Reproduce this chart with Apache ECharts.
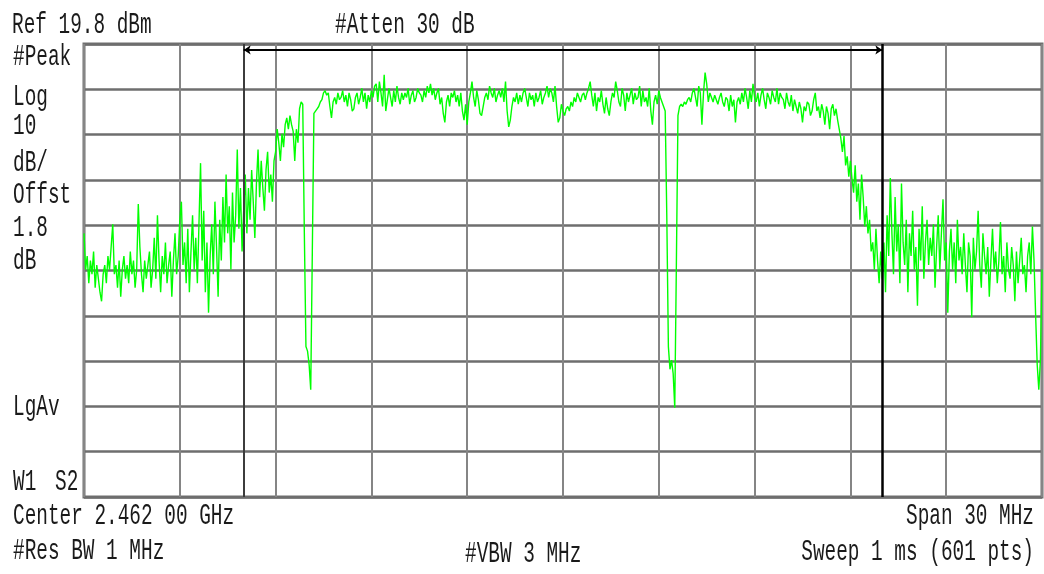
<!DOCTYPE html>
<html><head><meta charset="utf-8">
<script src="https://cdn.jsdelivr.net/npm/echarts@6/dist/echarts.min.js"></script>
<style>html,body{margin:0;padding:0;background:#fff}#c{width:1044px;height:574px}</style>
</head><body><div id="c"></div>
<script>
// ---- data ----
const freqStartMHz = 2447;
const freqStopMHz = 2477;
const freqDivMHz = 3;
const refLevelDbm = 19.8;
const dbPerDiv = 10;
const bottomDbm = -80.2;
const markerFreqsMHz = [2452, 2472];
const arrowLevelDbm = 18.5;
const traceDbm = [
-22,-30,-27,-33,-28,-31,-26,-34,-29,-32,
-35,-37,-31,-29,-33,-27,-30,-25,-20,-31,
-29,-34,-28,-36,-30,-27,-32,-29,-33,-26,
-31,-28,-34,-30,-15.5,-25,-31,-35,-28,-32,
-29,-26,-34,-30,-23,-32,-18,-28,-35,-27,
-31,-24,-33,-29,-26,-36,-28,-22,-31,-27,
-19,-15,-29,-24,-33,-21,-35,-26,-18,-30,
-23,-33,-20,-6.5,-28,-17,-35,-24,-39.5,-27,
-20,-31,-15,-25,-36,-19,-28,-14,-24,-9,
-22,-16,-30,-13,-24,-18,-3.5,-21,-12,-26,
-17,-9,-22,-12,-19,-8,-15,-23,-11,-3.5,
-14,-6,-12,-17,-8,-4,-13,-9,-15,-6,
-4,1,-2,-6,0,-3,2,3.5,1,4,
2,0.5,-6,1,-2,5.5,7,6.5,-22,-47,
-48,-51,-56.5,-26,4.5,5,5.5,6,7,7.5,
9,9.5,8.5,9,6,3.5,7,8,6.5,9,
7.5,8,9.5,7,8.5,6,9,7.5,5,5.5,
8,9,6.5,8,10,7,9,5.5,8.5,7,
9.5,8,10.5,11,7,11.5,9,6,13,5,
7.5,10,8,6,9.5,7,10.5,8,6.5,9,
7.5,9,8,10,6.5,8.5,9.5,7,8,10,
9,8.5,7,9.5,8,10.5,9,11,8.5,10,
7.5,9,10,6.5,8,4.5,2.5,7,8.5,6,
9,8,9.5,7,8.5,6,9,5,3,6.5,
2,7,9,11.5,8,6,9.5,7.5,4.5,4,
6,8,9,7.5,10.5,9,8,10,7,8.5,
9.5,8,10,7,11.5,5,1.5,3,6,8,
7,9,6.5,8.5,7,9,10,8,6,9,
7.5,8.5,6,9,7,8,9.5,6.5,8,9,
10.5,8,10,9,7,10.5,6,2.5,3.5,6.5,
5,4,5.5,6,5,7,6,8,7,9,
8,7,8.5,9,7.5,9,10,11.5,8.5,6,
9,5,8,7,9.5,6.5,4.5,8,5.5,4,
7,9,8,11.5,9.5,7,6,10,8.5,5,
9,7,8.5,10,6.5,9,7.5,8,10.5,6,
9.5,7,8,6,10,5,2,7,8.5,6.5,
9.5,8,7,6,5,-18,-47,-52,-50,-53,
-60.5,-29,4,6,6.5,6,7,6.5,7.5,8,
7,9,10,8,6,10.5,9,2,9,13.5,
11,7,9,8,7,8.5,7.5,6.5,8,9,
7,6,8,7.5,5,8.5,6,7.5,2.5,7,
8,6.5,9,7,10,8,5.5,9.5,7,11,
8,7,9,6,8.5,10,7.5,5.5,9,8,
6.5,9.5,8,7,10,6.5,9,8,7.5,5.5,
9,7,6,8.5,5,7.5,6,4.5,7,5.5,
2.5,6,5,7,6.5,4,5,7.5,9,5,
6,3.5,6.5,5,2,6,4.5,1,5.5,6.5,
4,5.5,3,3,-1,-4,-0.5,-7,-5,-9.5,
-6,-10,-13,-7,-15,-11,-19,-9,-14,-20.5,
-16,-22,-19,-26,-24,-30,-21,-28,-33,-26,
-32,-24,-35,-18,-27,-9.8,-22,-31,-14,-26,
-20,-33,-11,-24,-29,-19,-35,-22,-27,-17,
-30,-25,-38,-21,-28,-16,-32,-24,-19,-29,
-23,-27,-20,-34,-25,-18,-30,-22,-14.5,-28,
-24,-39.5,-26,-21,-30,-24,-33,-19,-28,-25,
-31,-22,-29,-35,-24,-27,-40.5,-23,-30,-26,
-17,-29,-34,-22,-27,-31,-25,-36,-28,-21,
-30,-26,-33,-28,-19.5,-31,-27,-35,-24,-30,
-32,-25,-29,-37,-26,-33,-28,-23,-31,-29,
-35,-27,-24,-31,-20.5,-28,-40,-51,-56.5,-50,
-30
];
const topLabels = ['Ref 19.8 dBm', '#Atten 30 dB'];
const leftLabels = ['#Peak', 'Log', '10', 'dB/', 'Offst', '1.8', 'dB', 'LgAv', 'W1', 'S2'];
const bottomLabels = ['Center 2.462 00 GHz', 'Span 30 MHz', '#Res BW 1 MHz', '#VBW 3 MHz', 'Sweep 1 ms (601 pts)'];

// ---- chart ----
const n = traceDbm.length;
const step = (freqStopMHz - freqStartMHz) / (n - 1);
const points = traceDbm.map((v, i) => [freqStartMHz + i * step, v]);

const FONT = '19.4px "Liberation Mono"';
const SY = 1.5;
function txt(t, x, y, align) {
  return { type: 'text', x: x, y: y, scaleY: SY, silent: true,
    style: { text: t, font: FONT, fill: '#1a1a1a', textAlign: align || 'left', textVerticalAlign: 'middle' } };
}
const leftY = [57.5, 97, 126, 163, 195, 228.5, 261, 407, 482, 482];
const leftX = [13, 13, 13, 13, 13, 13, 13, 13, 13, 55];
const graphics = [
  txt(topLabels[0], 12, 25.5),
  txt(topLabels[1], 335, 25.5)
];
leftLabels.forEach((t, i) => graphics.push(txt(t, leftX[i], leftY[i])));
graphics.push(txt(bottomLabels[0], 13, 516));
graphics.push(txt(bottomLabels[1], 1034, 516, 'right'));
graphics.push(txt(bottomLabels[2], 13, 551.5));
graphics.push(txt(bottomLabels[3], 465, 554));
graphics.push(txt(bottomLabels[4], 1034, 552, 'right'));

const chart = echarts.init(document.getElementById('c'), null, { renderer: 'canvas' });
chart.setOption({
  animation: false,
  backgroundColor: '#ffffff',
  grid: { left: 84, right: 2, top: 44, bottom: 77, show: true, borderColor: '#707070', borderWidth: 3 },
  xAxis: {
    type: 'value', min: freqStartMHz, max: freqStopMHz, interval: freqDivMHz,
    axisLine: { show: false }, axisTick: { show: false }, axisLabel: { show: false },
    splitLine: { show: true, lineStyle: { color: '#858585', width: 2 } }
  },
  yAxis: {
    type: 'value', min: bottomDbm, max: refLevelDbm, interval: dbPerDiv,
    axisLine: { show: false }, axisTick: { show: false }, axisLabel: { show: false },
    splitLine: { show: true, lineStyle: { color: '#6e6e6e', width: 2.5 } }
  },
  series: [
    {
      type: 'line', data: points, symbol: 'none', silent: true,
      lineStyle: { color: '#00ff00', width: 1.4 },
      markLine: {
        silent: true, symbol: 'none', label: { show: false },
        data: [
          { xAxis: markerFreqsMHz[0], lineStyle: { color: '#3c3c3c', width: 2, type: 'solid' } },
          { xAxis: markerFreqsMHz[1], lineStyle: { color: '#000000', width: 2.5, type: 'solid' } }
        ]
      }
    },
    {
      type: 'line', data: [], silent: true,
      markLine: {
        silent: true, symbol: ['arrow', 'arrow'], symbolSize: 7, label: { show: false },
        lineStyle: { color: '#000', width: 2, type: 'solid' },
        data: [[{ coord: [markerFreqsMHz[0], arrowLevelDbm] }, { coord: [markerFreqsMHz[1], arrowLevelDbm] }]]
      }
    }
  ],
  graphic: graphics
});
</script></body></html>
